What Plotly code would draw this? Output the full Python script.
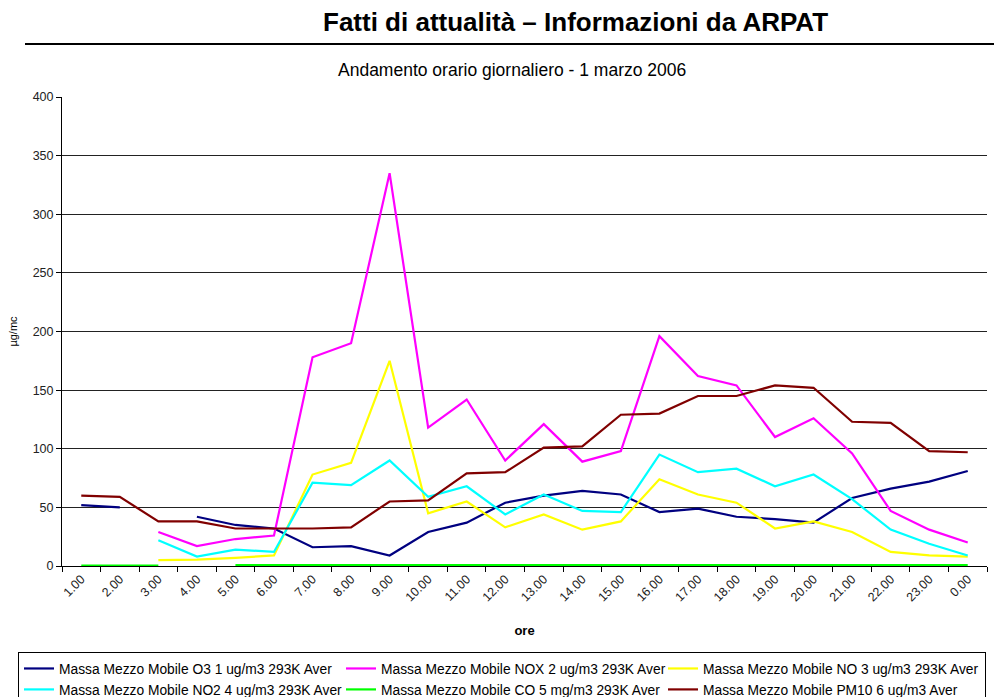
import plotly.graph_objects as go

# Hourly categories (1.00 ... 23.00, 0.00)
ore = [f"{h}.00" for h in range(1, 24)] + ["0.00"]

# Hourly averages, µg/m3 (CO in mg/m3); None = missing hour
o3 = [52, 50, None, 42, 35, 32, 16, 17, 9, 29, 37, 54, 60, 64, 61, 46,
      49, 42, 40, 37, 58, 66, 72, 81]
nox = [None, None, 29, 17, 23, 26, 178, 190, 335, 118, 142, 90, 121, 89, 98, 196,
       162, 154, 110, 126, 96, 47, 31, 20]
no = [None, None, 5, 5.5, 7, 9, 78, 88, 175, 45, 55, 33, 44, 31, 38, 74,
      61, 54, 32, 38, 29, 12, 9, 8]
no2 = [None, None, 22, 8, 14, 12, 71, 69, 90, 59, 68, 44, 61, 47, 46, 95,
       80, 83, 68, 78, 57, 31, 19, 9]
co = [0.3, 0.3, 0.3, None, 0.8, 0.8, 0.8, 0.8, 0.8, 0.8, 0.8, 0.8, 0.8, 0.8, 0.8, 0.8,
      0.8, 0.8, 0.8, 0.8, 0.8, 0.8, 0.8, 0.8]
pm10 = [60, 59, 38, 38, 32, 32, 32, 33, 55, 56, 79, 80, 101, 102, 129, 130,
        145, 145, 154, 152, 123, 122, 98, 97]

series = [
    ("Massa Mezzo Mobile O3 1 ug/m3 293K Aver", o3, "#000080"),
    ("Massa Mezzo Mobile NOX 2 ug/m3 293K Aver", nox, "#FF00FF"),
    ("Massa Mezzo Mobile NO 3 ug/m3 293K Aver", no, "#FFFF00"),
    ("Massa Mezzo Mobile NO2 4 ug/m3 293K Aver", no2, "#00FFFF"),
    ("Massa Mezzo Mobile CO 5 mg/m3 293K Aver", co, "#00FF00"),
    ("Massa Mezzo Mobile PM10 6 ug/m3 Aver", pm10, "#800000"),
]

fig = go.Figure()
for name, vals, color in series:
    fig.add_trace(go.Scatter(
        x=ore, y=vals, name=name, mode="lines",
        line=dict(color=color, width=2.2),
        connectgaps=False,
    ))

W, H = 994, 697
L, R, T, B = 62, 7, 97, 131
PW, PH = W - L - R, H - T - B
narrow = "Liberation Sans Narrow, Arial Narrow, Liberation Sans, Arial, sans-serif"
sans = "Liberation Sans, Arial, sans-serif"

fig.update_layout(
    width=W, height=H,
    margin=dict(l=L, r=R, t=T, b=B, autoexpand=False),
    paper_bgcolor="white", plot_bgcolor="white",
    font=dict(family=sans, color="#000000", size=12),
    showlegend=True,
    legend=dict(
        orientation="h",
        xref="paper", yref="paper",
        x=(18 - L) / PW, y=-(652 - (T + PH)) / PH, xanchor="left", yanchor="top",
        entrywidth=277, entrywidthmode="pixels",
        bordercolor="#000000", borderwidth=1,
        font=dict(family=sans, size=13.8, color="#000000"),
        itemwidth=30, tracegroupgap=0,
        traceorder="normal",
    ),
    xaxis=dict(
        type="category",
        range=[-0.5, len(ore) - 0.5],
        tickangle=-45,
        tickson="boundaries",
        ticks="outside", ticklen=5, tickcolor="#000000",
        showline=True, linecolor="#000000", linewidth=1,
        showgrid=False, zeroline=False,
        tickfont=dict(family=sans, size=12.5, color="#222222"),
        title=dict(text="<b>ore</b>", font=dict(family=sans, size=13), standoff=22),
    ),
    yaxis=dict(
        range=[0, 400], dtick=50, tick0=0,
        ticks="outside", ticklen=5, tickcolor="#000000",
        showline=True, linecolor="#000000", linewidth=1,
        showgrid=True, gridcolor="#222222", gridwidth=1,
        zeroline=False,
        tickfont=dict(family=sans, size=12.5, color="#222222"),
        title=dict(text="µg/mc", font=dict(family=sans, size=11), standoff=12),
    ),
    annotations=[
        dict(text="<b>Fatti di attualità – Informazioni da ARPAT</b>",
             xref="paper", yref="paper", x=(575 - L) / PW, y=1 + (T - 22) / PH,
             xanchor="center", yanchor="middle", showarrow=False,
             font=dict(family=narrow, size=26, color="#000000")),
        dict(text="Andamento orario giornaliero - 1 marzo 2006",
             xref="paper", yref="paper", x=(512 - L) / PW, y=1 + (T - 70) / PH,
             xanchor="center", yanchor="middle", showarrow=False,
             font=dict(family=narrow, size=17.5, color="#000000")),
    ],
    shapes=[
        dict(type="line", xref="paper", yref="paper",
             x0=(25 - L) / PW, x1=(W - L) / PW,
             y0=1 + (T - 44) / PH, y1=1 + (T - 44) / PH,
             line=dict(color="#000000", width=2)),
    ],
)

fig.write_html("out.html")
